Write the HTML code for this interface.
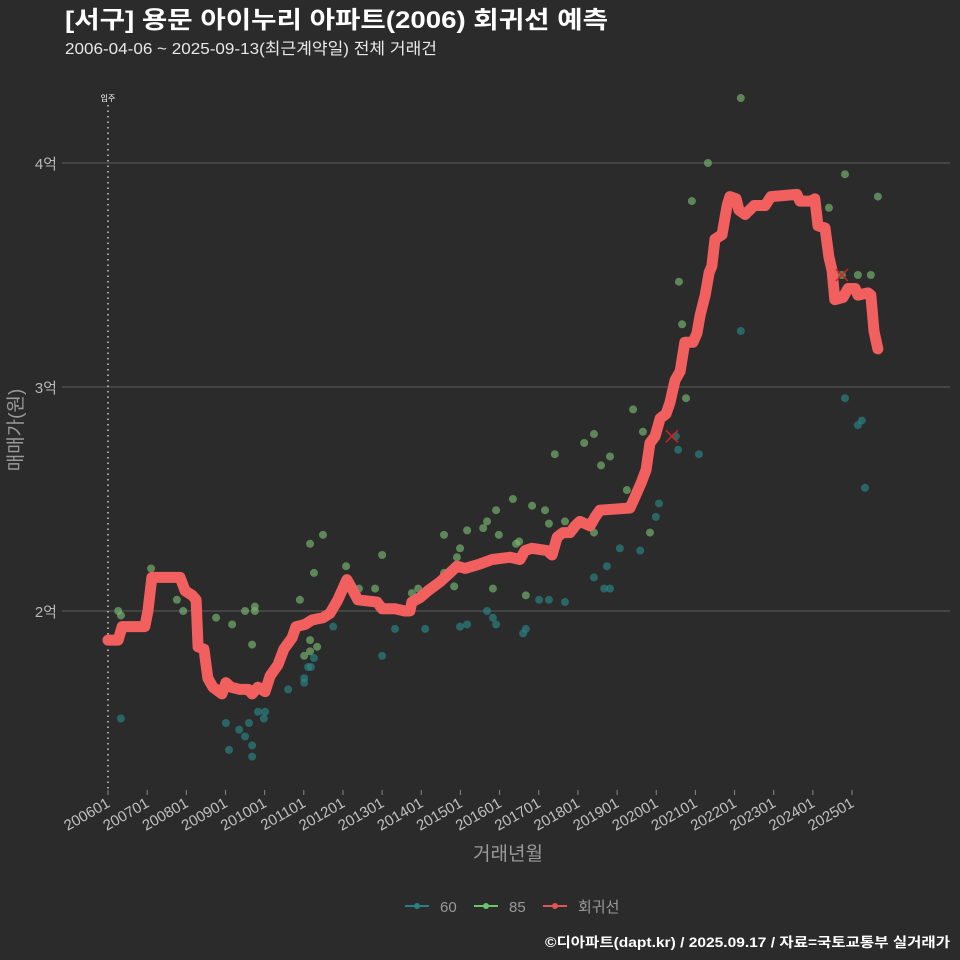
<!DOCTYPE html>
<html><head><meta charset="utf-8">
<style>
html,body{margin:0;padding:0;background:#2b2b2b;}
svg{display:block;font-family:"Liberation Sans","Noto Sans CJK KR",sans-serif;}
</style></head>
<body>
<svg id="chart" width="960" height="960" viewBox="0 0 960 960">
<rect width="960" height="960" fill="#2b2b2b"/>
<text x="65" y="28" fill="#ffffff" font-size="24" font-weight="bold" textLength="543" lengthAdjust="spacingAndGlyphs">[서구] 용문 아이누리 아파트(2006) 회귀선 예측</text>
<text x="65" y="54" fill="#e8e8e8" font-size="16" textLength="372" lengthAdjust="spacingAndGlyphs">2006-04-06 ~ 2025-09-13(최근계약일) 전체 거래건</text>
<g id="grid"></g>
<g id="yaxis"></g>
<g id="xaxis"></g>
<line x1="108" y1="105" x2="108" y2="790" stroke="#cccccc" stroke-width="1.5" stroke-dasharray="1.5,4"/>
<text x="108" y="101" fill="#ffffff" font-size="8" text-anchor="middle">입주</text>
<g id="pts60"></g>
<g id="pts85"></g>
<g id="reg"></g>
<g id="marks"></g>
<text x="508" y="860" fill="#9a9a9a" font-size="19" text-anchor="middle">거래년월</text>
<text transform="translate(22,430) rotate(-90)" fill="#9a9a9a" font-size="19" text-anchor="middle">매매가(원)</text>
<g>
 <g><line x1="405" y1="906" x2="429" y2="906" stroke="#2a8080" stroke-width="2"/><circle cx="417" cy="906" r="3" fill="#2a8080"/><text x="440" y="912" fill="#9a9a9a" font-size="15">60</text></g>
 <g><line x1="474" y1="906" x2="498" y2="906" stroke="#6bc46b" stroke-width="2"/><circle cx="486" cy="906" r="3" fill="#6bc46b"/><text x="509" y="912" fill="#9a9a9a" font-size="15">85</text></g>
 <g><line x1="543" y1="906" x2="567" y2="906" stroke="#e05555" stroke-width="2"/><circle cx="555" cy="906" r="3" fill="#e05555"/><text x="578" y="912" fill="#9a9a9a" font-size="15">회귀선</text></g>
</g>
<text x="950" y="947" fill="#ffffff" font-size="13.5" font-weight="bold" text-anchor="end" textLength="405" lengthAdjust="spacingAndGlyphs">©디아파트(dapt.kr) / 2025.09.17 / 자료=국토교통부 실거래가</text>
</svg>
<script>
const yTicks=[2,3,4];
const yTickLabels=["2억","3억","4억"];
const xTickYears=[2006,2007,2008,2009,2010,2011,2012,2013,2014,2015,2016,2017,2018,2019,2020,2021,2022,2023,2024,2025];
const xTickLabels=["200601","200701","200801","200901","201001","201101","201201","201301","201401","201501","201601","201701","201801","201901","202001","202101","202201","202301","202401","202501"];
const regT=[2006.00,2006.26,2006.36,2006.94,2007.02,2007.12,2007.84,2007.97,2008.15,2008.25,2008.30,2008.45,2008.55,2008.68,2008.91,2009.01,2009.14,2009.37,2009.58,2009.68,2009.83,2010.01,2010.14,2010.34,2010.49,2010.70,2010.80,2011.03,2011.21,2011.49,2011.67,2011.87,2012.10,2012.23,2012.38,2012.87,2013.00,2013.33,2013.58,2013.71,2013.76,2013.97,2014.17,2014.48,2014.73,2014.91,2015.12,2015.50,2015.81,2016.27,2016.52,2016.65,2016.83,2017.21,2017.34,2017.47,2017.62,2017.80,2017.93,2018.05,2018.31,2018.44,2018.56,2019.33,2019.46,2019.61,2019.74,2019.84,2019.97,2020.10,2020.25,2020.35,2020.48,2020.61,2020.73,2020.94,2021.04,2021.12,2021.25,2021.35,2021.42,2021.50,2021.68,2021.81,2021.88,2022.04,2022.11,2022.27,2022.50,2022.78,2022.93,2023.59,2023.67,2023.95,2024.05,2024.13,2024.31,2024.41,2024.49,2024.56,2024.77,2024.90,2025.08,2025.15,2025.41,2025.48,2025.56,2025.66];
const regV=[1.87,1.87,1.93,1.93,2.00,2.15,2.15,2.09,2.07,2.05,1.84,1.83,1.70,1.66,1.63,1.68,1.66,1.65,1.65,1.63,1.66,1.64,1.71,1.76,1.83,1.88,1.93,1.94,1.96,1.97,1.99,2.05,2.14,2.10,2.05,2.04,2.01,2.01,2.00,2.00,2.04,2.06,2.09,2.13,2.17,2.20,2.19,2.21,2.23,2.24,2.23,2.27,2.28,2.27,2.25,2.33,2.35,2.35,2.38,2.40,2.38,2.42,2.45,2.46,2.51,2.57,2.63,2.75,2.78,2.86,2.88,2.93,3.03,3.07,3.20,3.20,3.24,3.32,3.41,3.51,3.54,3.66,3.68,3.81,3.85,3.84,3.79,3.77,3.81,3.81,3.85,3.86,3.83,3.83,3.84,3.72,3.71,3.58,3.52,3.39,3.40,3.44,3.44,3.41,3.42,3.41,3.25,3.17];
const p85T=[2006.26,2006.33,2007.10,2007.76,2007.92,2008.76,2009.17,2009.50,2009.75,2009.75,2009.68,2010.90,2011.16,2011.49,2011.26,2012.08,2012.41,2012.82,2013.00,2011.16,2011.01,2011.16,2011.34,2013.76,2013.92,2014.58,2014.58,2014.84,2014.91,2014.99,2015.17,2015.58,2015.68,2015.91,2015.98,2015.83,2016.34,2016.42,2016.50,2016.67,2016.83,2017.16,2017.26,2017.41,2017.67,2018.16,2018.41,2018.59,2018.82,2019.25,2019.41,2019.66,2019.84,2018.41,2020.76,2020.58,2020.66,2020.91,2021.32,2022.16,2024.82,2025.66,2024.41,2025.15,2025.48,2024.74];
const p85V=[2.00,1.98,2.19,2.05,2.00,1.97,1.94,2.00,2.02,2.00,1.85,2.05,2.30,2.34,2.17,2.20,2.10,2.10,2.25,1.87,1.80,1.82,1.84,2.08,2.10,2.34,2.17,2.11,2.24,2.28,2.36,2.37,2.40,2.45,2.34,2.10,2.50,2.30,2.31,2.07,2.47,2.45,2.39,2.70,2.40,2.75,2.79,2.65,2.69,2.54,2.90,2.80,2.35,2.35,2.95,3.47,3.28,3.83,4.00,4.29,3.95,3.85,3.80,3.50,3.50,3.50];
const p60T=[2006.33,2009.01,2009.09,2009.35,2009.50,2009.60,2009.68,2009.68,2009.83,2010.01,2009.98,2010.60,2011.01,2011.01,2011.11,2011.18,2011.26,2011.75,2013.00,2013.33,2014.10,2014.99,2015.17,2015.68,2015.83,2015.91,2016.60,2016.67,2017.01,2017.26,2017.67,2018.41,2018.67,2018.82,2018.74,2019.07,2019.59,2019.99,2020.07,2020.56,2020.50,2021.09,2022.16,2024.82,2025.25,2025.15,2025.33];
const p60V=[1.52,1.50,1.38,1.47,1.44,1.50,1.40,1.35,1.55,1.55,1.52,1.65,1.70,1.68,1.75,1.75,1.79,1.93,1.80,1.92,1.92,1.93,1.94,2.00,1.97,1.94,1.90,1.92,2.05,2.05,2.04,2.15,2.10,2.10,2.20,2.28,2.27,2.42,2.48,2.72,2.78,2.70,3.25,2.95,2.85,2.83,2.55];
const markT=[2020.40,2024.74];
const markV=[2.78,3.50];

const NS="http://www.w3.org/2000/svg";
function X(t){return 108+(t-2006)*39.16;}
function Y(v){return 611-(v-2)*224;}
function mk(tag,attrs,parent){const e=document.createElementNS(NS,tag);for(const k in attrs)e.setAttribute(k,attrs[k]);parent.appendChild(e);return e;}

const grid=document.getElementById('grid'),yax=document.getElementById('yaxis'),xax=document.getElementById('xaxis');
yTicks.forEach((v,i)=>{
  const g=mk('line',{x1:62,x2:950,y1:Y(v),y2:Y(v),stroke:'#5c5c5c','stroke-width':1},grid);
  
  
  const t=mk('text',{x:57,y:Y(v)+6,fill:'#b8b8b8','font-size':15,'text-anchor':'end'},yax);
  t.textContent=yTickLabels[i];
  
  
});
xTickYears.forEach((yr,i)=>{
  const x=X(yr);
  const tk=mk('line',{x1:x,x2:x,y1:790,y2:795,stroke:'#888','stroke-width':1},xax);
  
  
  const t=mk('text',{x:x+3,y:806,fill:'#c0c0c0','font-size':15,'text-anchor':'end',transform:`rotate(-30 ${x+3} 806)`},xax);
  t.textContent=xTickLabels[i];
  
  
});
const g60=document.getElementById('pts60');
p60T.forEach((t,i)=>{
  const c=mk('circle',{cx:X(t),cy:Y(p60V[i]),r:4,fill:'#2a8585','fill-opacity':0.65},g60);
  
  
});
const g85=document.getElementById('pts85');
p85T.forEach((t,i)=>{
  const c=mk('circle',{cx:X(t),cy:Y(p85V[i]),r:4,fill:'#79b872','fill-opacity':0.65},g85);
  
  
});
const reg=document.getElementById('reg');
const path=mk('polyline',{points:regT.map((t,i)=>X(t)+','+Y(regV[i])).join(' '),fill:'none',stroke:'#f25f5f','stroke-width':11,'stroke-linejoin':'round','stroke-linecap':'round'},reg);


const gm=document.getElementById('marks');
markT.forEach((t,i)=>{
  const x=X(t),y=Y(markV[i]);
  const p=mk('path',{d:`M${x-6},${y-6}L${x+6},${y+6}M${x-6},${y+6}L${x+6},${y-6}`,stroke:'#d42020','stroke-width':1.5,fill:'none'},gm);
  
  
});
</script>
</body></html>
